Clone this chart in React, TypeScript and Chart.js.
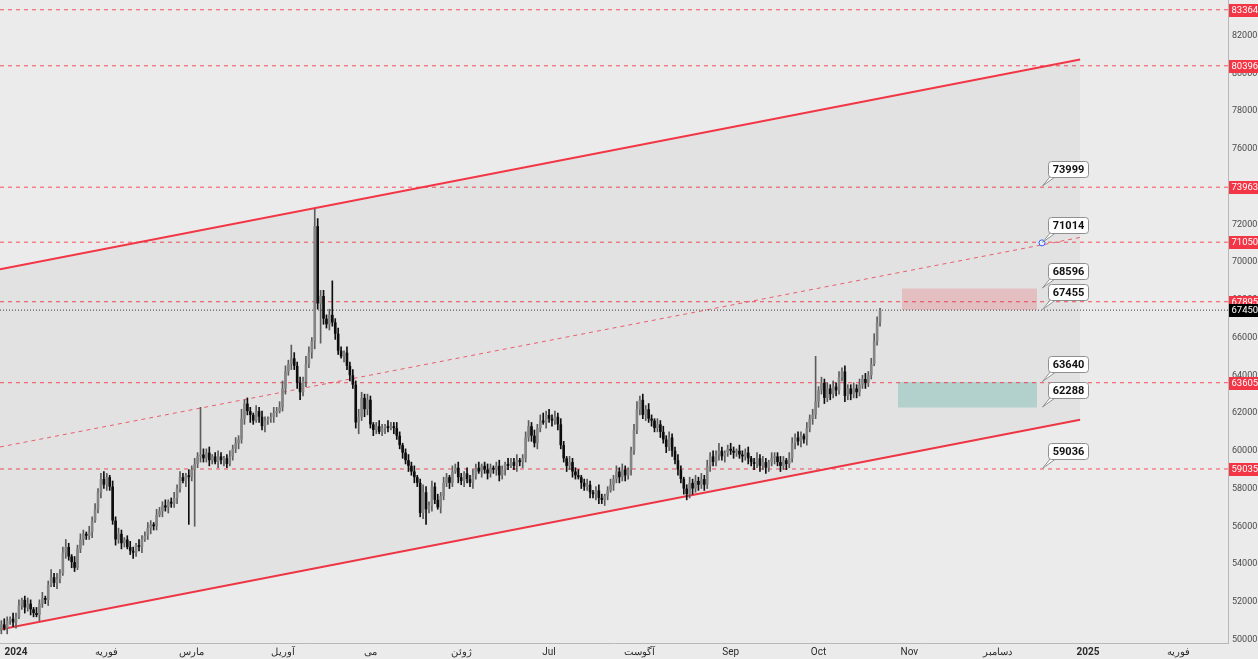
import React, { useEffect, useRef } from 'react';
import { Chart, registerables } from 'chart.js';

Chart.register(...registerables);

// ---------- DATA ----------
// Daily candles; first candle = 27 Dec 2023 (day index -5, day 0 = 1 Jan 2024)
const FIRST_DAY = -5;
const FIRST_OPEN = 50500;

const closes = [
  50800, 50600, 51000, 51100, 50900, 51200, 51800, 52100, 51700, 51900,
  51600, 51400, 51300, 51900, 52200, 52100, 52900, 53300, 53000, 53200,
  53500, 54600, 54900, 54400, 54100, 53800, 54800, 55300, 55600, 55500,
  55700, 56300, 56900, 57800, 58500, 58200, 58600, 58100, 56300, 55300,
  55600, 55100, 55300, 54900, 54700, 54600, 55000, 54900, 55300, 55500,
  55900, 56100, 56000, 56600, 56800, 57100, 57000, 57300, 57200, 57500,
  58000, 58600, 58400, 58700, 58600, 59000, 59300, 59700, 59800, 59600,
  59900, 59500, 59700, 59400, 59700, 59500, 59600, 59300, 59700, 60100,
  60400, 60600, 61700, 62500, 62100, 61900, 61600, 62100, 61800, 61300,
  61600, 61700, 61800, 62000, 62100, 62300, 63300, 64200, 64600, 64900,
  64500, 63600, 63100, 63700, 64600, 65200, 65800, 71900, 67800, 68200,
  67000, 66700, 67200, 66800, 66200, 65300, 65000, 65200, 64500, 64000,
  63500, 61500, 61800, 62800, 62200, 62700, 61400, 61100, 61300, 61000,
  61200, 61300, 61200, 61300, 61200, 60800, 60300, 59900, 59500, 59200,
  58900, 58600, 58300, 56700, 57800, 56900, 57100, 58100, 57400, 57000,
  57600, 58300, 58600, 58300, 58900, 59100, 58600, 58400, 58800, 58500,
  58300, 58700, 59100, 58900, 59200, 59000, 58800, 59100, 59000, 59200,
  58700, 59000, 59300, 59200, 59400, 59200, 59500, 59400, 59600, 60700,
  61300, 60800, 60400, 61200, 61600, 61500, 61900, 61700, 61600, 61800,
  61400, 60300, 59600, 59200, 59400, 58900, 58700, 58600, 58300, 58100,
  58200, 57800, 57700, 57900, 57500, 57400, 57600, 57900, 58200, 58500,
  58900, 58600, 59000, 58700, 59000, 60000, 61100, 62200, 62700, 61900,
  62200, 61700, 61600, 61200, 61400, 61000, 60600, 60200, 60700, 60000,
  59500, 59000, 58500, 58000, 57700, 58300, 58000, 58400, 58200, 58500,
  58200, 59200, 59700, 59400, 59800, 60000, 59700, 59900, 60100, 60000,
  59900, 60000, 59800, 59700, 59900, 59600, 59400, 59300, 59600, 59200,
  59400, 59100, 59400, 59600, 59700, 59400, 59200, 59500, 59300, 59600,
  60400, 60700, 60500, 60800, 60600, 61200, 61700, 61900, 62600, 63200,
  63600, 62800, 63300, 63000, 63400, 63200, 63900, 64200, 62900, 63300,
  63000, 63300, 63100, 63500, 63800, 63600, 64000, 64600, 65800, 66800,
  67450,
];

// wick length above the body top / below the body bottom
const wickUp = [
  200, 300, 200, 100, 300, 200, 300, 100, 200, 300,
  200, 100, 300, 200, 300, 100, 200, 400, 200, 300,
  200, 300, 400, 200, 100, 300, 200, 300, 200, 100,
  300, 200, 300, 200, 300, 400, 200, 100, 300, 200,
  300, 200, 100, 200, 300, 200, 100, 300, 200, 200,
  300, 200, 100, 300, 200, 200, 300, 100, 200, 300,
  200, 300, 200, 100, 300, 200, 300, 200, 2500, 300,
  200, 300, 100, 200, 300, 200, 100, 200, 300, 200,
  300, 200, 500, 200, 300, 200, 100, 300, 200, 300,
  200, 100, 200, 300, 200, 300, 400, 300, 200, 700,
  300, 200, 300, 200, 400, 300, 200, 900, 400, 300,
  300, 200, 300, 1800, 200, 300, 200, 100, 300, 200,
  300, 200, 400, 300, 200, 300, 200, 100, 200, 300,
  200, 100, 300, 200, 200, 300, 200, 100, 200, 300,
  200, 300, 100, 200, 400, 300, 200, 300, 200, 300,
  200, 300, 200, 100, 300, 200, 300, 200, 100, 300,
  200, 300, 200, 300, 100, 200, 300, 200, 100, 200,
  300, 200, 100, 300, 200, 200, 300, 100, 200, 300,
  300, 200, 300, 200, 300, 400, 200, 300, 200, 300,
  200, 300, 200, 100, 300, 200, 200, 300, 100, 200,
  300, 200, 100, 200, 300, 200, 100, 200, 300, 200,
  300, 200, 300, 200, 100, 200, 300, 400, 200, 300,
  200, 300, 200, 100, 300, 200, 300, 200, 300, 200,
  200, 300, 200, 100, 200, 300, 200, 300, 200, 300,
  200, 300, 200, 300, 200, 400, 200, 100, 200, 300,
  200, 100, 300, 200, 200, 300, 100, 200, 300, 200,
  300, 200, 100, 300, 200, 200, 300, 200, 100, 300,
  300, 200, 300, 200, 100, 300, 200, 300, 2400, 200,
  300, 200, 300, 200, 300, 200, 300, 200, 300, 200,
  200, 300, 200, 300, 200, 300, 200, 300, 400, 300,
  100,
];

const wickDown = [
  200, 100, 300, 200, 200, 300, 100, 200, 300, 200,
  300, 200, 100, 300, 200, 200, 300, 100, 200, 300,
  200, 100, 300, 200, 300, 200, 100, 200, 300, 200,
  200, 300, 100, 200, 300, 200, 300, 200, 200, 300,
  200, 300, 200, 100, 200, 300, 200, 200, 300, 100,
  200, 300, 200, 200, 100, 300, 200, 300, 200, 200,
  300, 200, 100, 300, 2500, 200, 3000, 200, 300, 200,
  200, 300, 200, 100, 300, 200, 300, 200, 100, 200,
  200, 300, 200, 300, 200, 400, 200, 100, 300, 200,
  300, 200, 200, 300, 200, 100, 200, 300, 200, 300,
  200, 300, 400, 200, 300, 200, 300, 400, 300, 2100,
  300, 200, 300, 200, 300, 200, 100, 300, 200, 300,
  200, 300, 600, 200, 400, 300, 200, 300, 200, 100,
  200, 300, 200, 100, 300, 200, 200, 300, 200, 300,
  200, 300, 200, 200, 300, 800, 200, 300, 200, 100,
  300, 200, 200, 300, 200, 100, 300, 200, 300, 200,
  200, 300, 200, 100, 300, 200, 300, 200, 200, 300,
  300, 200, 300, 200, 100, 200, 300, 200, 300, 200,
  200, 300, 200, 300, 200, 100, 300, 200, 300, 200,
  300, 200, 200, 300, 200, 300, 200, 100, 300, 200,
  200, 300, 200, 300, 300, 200, 300, 200, 100, 300,
  200, 300, 200, 300, 200, 300, 200, 200, 300, 200,
  300, 200, 300, 200, 200, 300, 200, 300, 200, 300,
  200, 300, 200, 300, 300, 200, 300, 200, 300, 200,
  300, 200, 300, 200, 200, 300, 200, 300, 200, 200,
  300, 200, 200, 300, 200, 300, 200, 300, 200, 300,
  200, 300, 200, 200, 300, 200, 300, 200, 300, 200,
  200, 300, 200, 300, 200, 300, 200, 300, 200, 300,
  200, 300, 200, 300, 200, 300, 200, 200, 300, 200,
  300, 200, 300, 200, 200, 300, 200, 200, 100, 200,
  200,
];

// x axis (day index from 1 Jan 2024)
const MONTH_TICKS = [0, 31, 60, 91, 121, 152, 182, 213, 244, 274, 305, 335, 366, 397];
const MONTH_LABELS = ['2024', 'فوریه', 'مارس', 'آوریل', 'می', 'ژوئن', 'Jul', 'آگوست', 'Sep', 'Oct', 'Nov', 'دسامبر', '2025', 'فوریه'];
const YEAR_TICKS = [0, 366];
const X_MIN = -5.46;
const X_MAX = 413.8;

// y axis
const Y_TICKS = [50000, 52000, 54000, 56000, 58000, 60000, 62000, 64000, 66000, 68000, 70000, 72000, 74000, 76000, 78000, 80000, 82000];
const Y_MIN = 49815;
const Y_MAX = 83881;

// horizontal levels and price
const LEVELS = [83364, 80396, 73963, 71050, 67895, 63605, 59035];
const LAST_PRICE = 67450;

// parallel channel (start / end)
const CHANNEL_DAYS = [-5.46, 363.3];
const CHANNEL_UPPER = [69618, 80734];
const CHANNEL_LOWER = [50530, 61645];
const CHANNEL_MID = [60200, 71300];

// zones
const RED_ZONE = [67455, 68596];
const RED_ZONE_DAYS = [302.5, 348.6];
const GREEN_ZONE = [62288, 63640];
const GREEN_ZONE_DAYS = [301.1, 348.6];

// price callouts
const CALLOUT_DAY = 350.3;
const CALLOUTS = [73999, 71014, 68596, 67455, 63640, 62288, 59036];
const MARKER = 71014;

// ---------- COMPONENT ----------
export default function App() {
  const ref = useRef<HTMLCanvasElement | null>(null);

  useEffect(() => {
    const canvas = ref.current;
    if (!canvas) return;

    const days = closes.map((_, i) => FIRST_DAY + i);
    const opens = closes.map((c, i) => (i === 0 ? FIRST_OPEN : closes[i - 1]));
    const up = closes.map((c, i) => c >= opens[i]);
    const bodyData = days.map((d, i) => ({
      x: d,
      y: [Math.min(opens[i], closes[i]), Math.max(opens[i], closes[i])],
    }));
    const wickData = days.map((d, i) => ({
      x: d,
      y: [Math.min(opens[i], closes[i]) - wickDown[i], Math.max(opens[i], closes[i]) + wickUp[i]],
    }));
    const hline = (v: number) => [
      { x: X_MIN, y: v },
      { x: X_MAX, y: v },
    ];
    const seg = (d: number[], v: number[]) => [
      { x: d[0], y: v[0] },
      { x: d[1], y: v[1] },
    ];
    const lineBase = {
      type: 'line' as const,
      pointRadius: 0,
      pointHoverRadius: 0,
      tension: 0,
      fill: false,
    };

    const datasets: any[] = [
      {
        type: 'bar',
        data: bodyData,
        backgroundColor: up.map((u) => (u ? '#858585' : '#0d0d0d')),
        borderWidth: 0,
        grouped: false,
        categoryPercentage: 1,
        barPercentage: 0.9,
        minBarLength: 1,
        order: 0,
      },
      {
        type: 'bar',
        data: wickData,
        backgroundColor: up.map((u) => (u ? '#5c5c5c' : '#0d0d0d')),
        borderWidth: 0,
        grouped: false,
        barThickness: 1,
        order: 1,
      },
      {
        ...lineBase,
        data: seg(CHANNEL_DAYS, CHANNEL_UPPER),
        borderColor: '#f23645',
        borderWidth: 2,
        fill: '+1',
        backgroundColor: 'rgba(0,0,0,0.035)',
        order: 2,
      },
      {
        ...lineBase,
        data: seg(CHANNEL_DAYS, CHANNEL_LOWER),
        borderColor: '#f23645',
        borderWidth: 2,
        order: 2,
      },
      {
        ...lineBase,
        data: seg(CHANNEL_DAYS, CHANNEL_MID),
        borderColor: 'rgba(242,54,69,0.75)',
        borderWidth: 1,
        borderDash: [4, 4],
        order: 2,
      },
      ...LEVELS.map((v) => ({
        ...lineBase,
        data: hline(v),
        borderColor: 'rgba(242,54,69,0.85)',
        borderWidth: 1,
        borderDash: [4, 4],
        order: 3,
      })),
      {
        ...lineBase,
        data: hline(LAST_PRICE),
        borderColor: '#3a3a3a',
        borderWidth: 1,
        borderDash: [1, 2],
        order: 3,
      },
      {
        ...lineBase,
        data: seg(RED_ZONE_DAYS, [RED_ZONE[1], RED_ZONE[1]]),
        borderWidth: 0,
        fill: { value: RED_ZONE[0] },
        backgroundColor: 'rgba(242,54,69,0.2)',
        order: 4,
      },
      {
        ...lineBase,
        data: seg(GREEN_ZONE_DAYS, [GREEN_ZONE[1], GREEN_ZONE[1]]),
        borderWidth: 0,
        fill: { value: GREEN_ZONE[0] },
        backgroundColor: 'rgba(8,153,129,0.22)',
        order: 4,
      },
      {
        type: 'line',
        data: [{ x: CALLOUT_DAY, y: MARKER }],
        showLine: false,
        pointRadius: 3,
        pointHoverRadius: 3,
        pointBorderWidth: 1,
        pointBorderColor: '#2962ff',
        pointBackgroundColor: '#eef1fb',
        order: -1,
      },
    ];

    const overlay = {
      id: 'overlay',
      afterDraw(chart: any) {
        const { ctx, scales, chartArea } = chart;
        const xs = scales.x;
        const ys = scales.y;
        ctx.save();
        // callouts
        ctx.font = 'bold 11px Roboto';
        ctx.textAlign = 'center';
        ctx.textBaseline = 'middle';
        CALLOUTS.forEach((v) => {
          const tx = xs.getPixelForValue(CALLOUT_DAY);
          const ty = ys.getPixelForValue(v);
          const bw = 40;
          const bh = 16;
          const bx = tx + 6;
          const by = ty - 10 - bh;
          // pointer
          ctx.beginPath();
          ctx.moveTo(tx + 0.5, ty - 0.5);
          ctx.lineTo(bx + 3, by + bh - 1);
          ctx.lineTo(bx + 9, by + bh - 1);
          ctx.closePath();
          ctx.fillStyle = '#ffffff';
          ctx.fill();
          ctx.strokeStyle = '#8f8f8f';
          ctx.lineWidth = 1;
          ctx.stroke();
          // box
          ctx.beginPath();
          ctx.roundRect(Math.round(bx) + 0.5, Math.round(by) + 0.5, bw, bh, 3);
          ctx.fillStyle = '#ffffff';
          ctx.fill();
          ctx.strokeStyle = '#8f8f8f';
          ctx.stroke();
          ctx.fillStyle = '#111111';
          ctx.fillText(String(v), Math.round(bx) + bw / 2 + 0.5, Math.round(by) + bh / 2 + 1);
        });
        // price scale labels
        ctx.font = '9.5px Roboto';
        ctx.textAlign = 'left';
        ctx.textBaseline = 'middle';
        const drawTag = (v: number, bg: string) => {
          const yy = Math.round(ys.getPixelForValue(v));
          ctx.fillStyle = bg;
          ctx.fillRect(chartArea.right + 1, yy - 6, 30, 13);
          ctx.fillStyle = '#ffffff';
          ctx.fillText(String(v), chartArea.right + 3.5, yy + 0.5);
        };
        LEVELS.forEach((v) => drawTag(v, '#f23645'));
        drawTag(LAST_PRICE, '#000000');
        ctx.restore();
      },
    };

    const chart = new Chart(canvas, {
      type: 'bar',
      data: { datasets },
      options: {
        animation: false,
        responsive: false,
        devicePixelRatio: 1,
        events: [],
        layout: { padding: 0, autoPadding: false },
        plugins: {
          legend: { display: false },
          tooltip: { enabled: false },
        },
        scales: {
          x: {
            type: 'linear',
            position: 'bottom',
            min: X_MIN,
            max: X_MAX,
            offset: false,
            grid: { display: false, drawTicks: false },
            border: { display: true, color: '#b8b8b8' },
            ticks: {
              autoSkip: false,
              maxRotation: 0,
              padding: 3,
              color: '#2b2b2b',
              font: (c: any) => ({
                family: 'Roboto',
                size: 10,
                weight: c.tick && YEAR_TICKS.includes(c.tick.value) ? 'bold' : 'normal',
              }),
              callback: (v: any) => {
                const i = MONTH_TICKS.indexOf(Number(v));
                return i >= 0 ? MONTH_LABELS[i] : '';
              },
            },
            afterBuildTicks: (s: any) => {
              s.ticks = MONTH_TICKS.map((v) => ({ value: v }));
            },
            afterFit: (s: any) => {
              s.height = 16;
              s.paddingLeft = 0;
              s.paddingRight = 0;
            },
          },
          y: {
            type: 'linear',
            position: 'right',
            min: Y_MIN,
            max: Y_MAX,
            grid: { display: false, drawTicks: false },
            border: { display: true, color: '#b8b8b8' },
            ticks: {
              padding: 4,
              color: '#4a4a4a',
              font: { family: 'Roboto', size: 9 },
              callback: (v: any) => String(v),
            },
            afterBuildTicks: (s: any) => {
              s.ticks = Y_TICKS.map((v) => ({ value: v }));
            },
            afterFit: (s: any) => {
              s.width = 30;
              s.paddingTop = 0;
              s.paddingBottom = 0;
            },
          },
        },
      } as any,
      plugins: [overlay],
    });

    return () => chart.destroy();
  }, []);

  return (
    <div
      style={{
        position: 'fixed',
        left: 0,
        top: 0,
        width: 1258,
        height: 659,
        background: '#ebebeb',
      }}
    >
      <canvas ref={ref} width={1258} height={659} style={{ display: 'block' }} />
    </div>
  );
}
